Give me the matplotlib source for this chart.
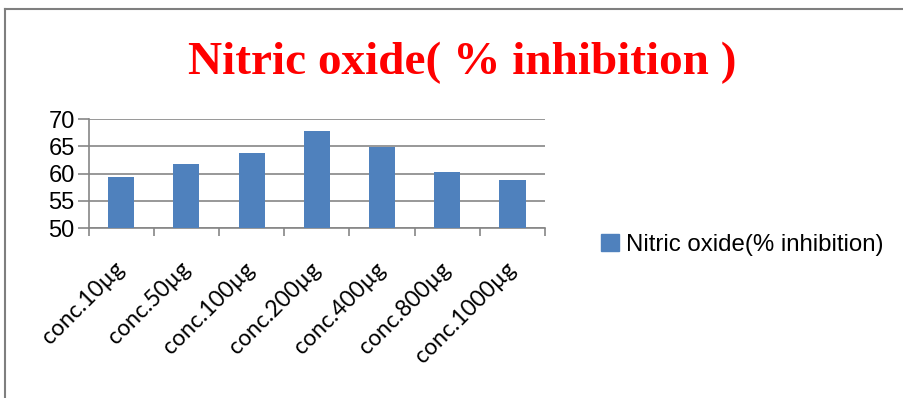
import matplotlib.pyplot as plt
from matplotlib.lines import Line2D
from matplotlib.patches import Patch

categories = ['conc.10µg', 'conc.50µg', 'conc.100µg', 'conc.200µg',
              'conc.400µg', 'conc.800µg', 'conc.1000µg']
inhibition = [59.4, 61.8, 63.8, 67.8, 64.9, 60.2, 58.9]
yticks = [50, 55, 60, 65, 70]

BAR_COLOR = '#4F81BD'
GRID_COLOR = '#868686'

fig = plt.figure(figsize=(9.04, 3.98), dpi=100)
ax = fig.add_axes([0.098, 0.427, 0.505, 0.274])

x = range(len(categories))
ax.bar(x, inhibition, width=0.4, color=BAR_COLOR, zorder=3)

ax.set_xlim(-0.5, len(categories) - 0.5)
ax.set_ylim(50, 70)
ax.set_yticks(yticks)
ax.set_yticklabels([str(v) for v in yticks], fontsize=17, family='Liberation Sans')
ax.yaxis.grid(True, color=GRID_COLOR, linewidth=1.2, zorder=0)
ax.tick_params(axis='y', length=8, width=1.2, color=GRID_COLOR, pad=2)

# category labels at centres, tick marks between categories
ax.set_xticks(list(x))
ax.set_xticklabels(categories, rotation=45, ha='right', va='center',
                   rotation_mode='anchor', fontsize=16.5, family='Lato')
ax.tick_params(axis='x', which='major', length=0, pad=27)
ax.set_xticks([i - 0.5 for i in range(len(categories) + 1)], minor=True)
ax.tick_params(axis='x', which='minor', length=6, width=1.2, color=GRID_COLOR)

for side in ('top', 'right'):
    ax.spines[side].set_visible(False)
for side in ('left', 'bottom'):
    ax.spines[side].set_color(GRID_COLOR)
    ax.spines[side].set_linewidth(1.2)

fig.text(0.511, 0.842, 'Nitric oxide( % inhibition )', ha='center', va='center',
         fontsize=34, fontweight='bold', color='#FF0000', family='Liberation Serif')

fig.legend(handles=[Patch(color=BAR_COLOR, label='Nitric oxide(% inhibition)')],
           loc='center left', bbox_to_anchor=(0.641, 0.385), frameon=False,
           prop={'family': 'Liberation Sans', 'size': 17.3},
           handlelength=0.75, handleheight=0.75, handletextpad=0.3)

# chart-area frame
fig.add_artist(Line2D([0.006, 0.006], [0.0, 0.977], color='#7F7F7F', linewidth=1.5))
fig.add_artist(Line2D([0.006, 1.0], [0.977, 0.977], color='#7F7F7F', linewidth=1.5))

fig.savefig('out.png', dpi=100)
